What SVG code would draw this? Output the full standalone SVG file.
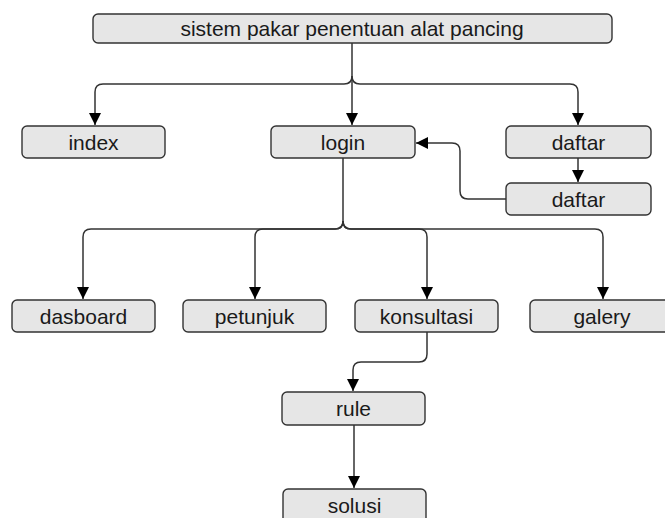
<svg xmlns="http://www.w3.org/2000/svg" width="665" height="518" viewBox="0 0 665 518">
<style>
.box{fill:#e6e6e6;stroke:#333;stroke-width:1.4}
.lbl{font-family:"Liberation Sans",Arial,sans-serif;font-size:21px;fill:#1a1a1a;text-anchor:middle}
.edge{fill:none;stroke:#333;stroke-width:1.5}
</style>
<defs>
<marker id="arr" markerUnits="userSpaceOnUse" markerWidth="14" markerHeight="14" viewBox="0 0 14 14" refX="13" refY="7" orient="auto">
<path d="M1,1 L13,7 L1,13 Z" fill="#000"/>
</marker>
</defs>
<rect width="665" height="518" fill="#fff"/>
<g id="connectors">
<path class="edge" d="M352,43 V125" marker-end="url(#arr)"/>
<path class="edge" d="M352,76 Q352,84 344,84 H103 Q95,84 95,92 V125" marker-end="url(#arr)"/>
<path class="edge" d="M352,76 Q352,84 360,84 H570 Q578,84 578,92 V125" marker-end="url(#arr)"/>
<path class="edge" d="M578,158 V182" marker-end="url(#arr)"/>
<path class="edge" d="M506,199 H468 Q460,199 460,191 V151 Q460,143 452,143 H416" marker-end="url(#arr)"/>
<path class="edge" d="M343,158 V221 Q343,229 335,229 H91 Q83,229 83,237 V299" marker-end="url(#arr)"/>
<path class="edge" d="M343,221 Q343,229 335,229 H263 Q255,229 255,237 V299" marker-end="url(#arr)"/>
<path class="edge" d="M343,221 Q343,229 351,229 H419 Q427,229 427,237 V299" marker-end="url(#arr)"/>
<path class="edge" d="M343,221 Q343,229 351,229 H595 Q603,229 603,237 V299" marker-end="url(#arr)"/>
<path class="edge" d="M427,332 V354 Q427,362 419,362 H361 Q353,362 353,370 V391" marker-end="url(#arr)"/>
<path class="edge" d="M354,425 V488" marker-end="url(#arr)"/>
</g>
<g id="n-root"><rect class="box" x="93" y="14" width="519" height="29" rx="5"/><text class="lbl" x="352" y="36">sistem pakar penentuan alat pancing</text></g>
<g id="n-index"><rect class="box" x="22" y="126" width="143" height="32" rx="5"/><text class="lbl" x="93.5" y="149.5">index</text></g>
<g id="n-login"><rect class="box" x="271" y="126" width="144" height="32" rx="5"/><text class="lbl" x="343" y="149.5">login</text></g>
<g id="n-daftar"><rect class="box" x="506" y="126" width="145" height="32" rx="5"/><text class="lbl" x="578.5" y="149.5">daftar</text></g>
<g id="n-daftar2"><rect class="box" x="506" y="183" width="145" height="32" rx="5"/><text class="lbl" x="578.5" y="206.5">daftar</text></g>
<g id="n-dasboard"><rect class="box" x="12" y="300" width="143" height="32" rx="5"/><text class="lbl" x="83.5" y="323.5">dasboard</text></g>
<g id="n-petunjuk"><rect class="box" x="183" y="300" width="143" height="32" rx="5"/><text class="lbl" x="254.5" y="323.5">petunjuk</text></g>
<g id="n-konsultasi"><rect class="box" x="355" y="300" width="143" height="32" rx="5"/><text class="lbl" x="426.5" y="323.5">konsultasi</text></g>
<g id="n-galery"><rect class="box" x="530" y="300" width="145" height="32" rx="5"/><text class="lbl" x="602" y="323.5">galery</text></g>
<g id="n-rule"><rect class="box" x="282" y="392" width="143" height="33" rx="5"/><text class="lbl" x="353.5" y="416">rule</text></g>
<g id="n-solusi"><rect class="box" x="283" y="489" width="143" height="36" rx="5"/><text class="lbl" x="354.5" y="512.5">solusi</text></g>
</svg>
